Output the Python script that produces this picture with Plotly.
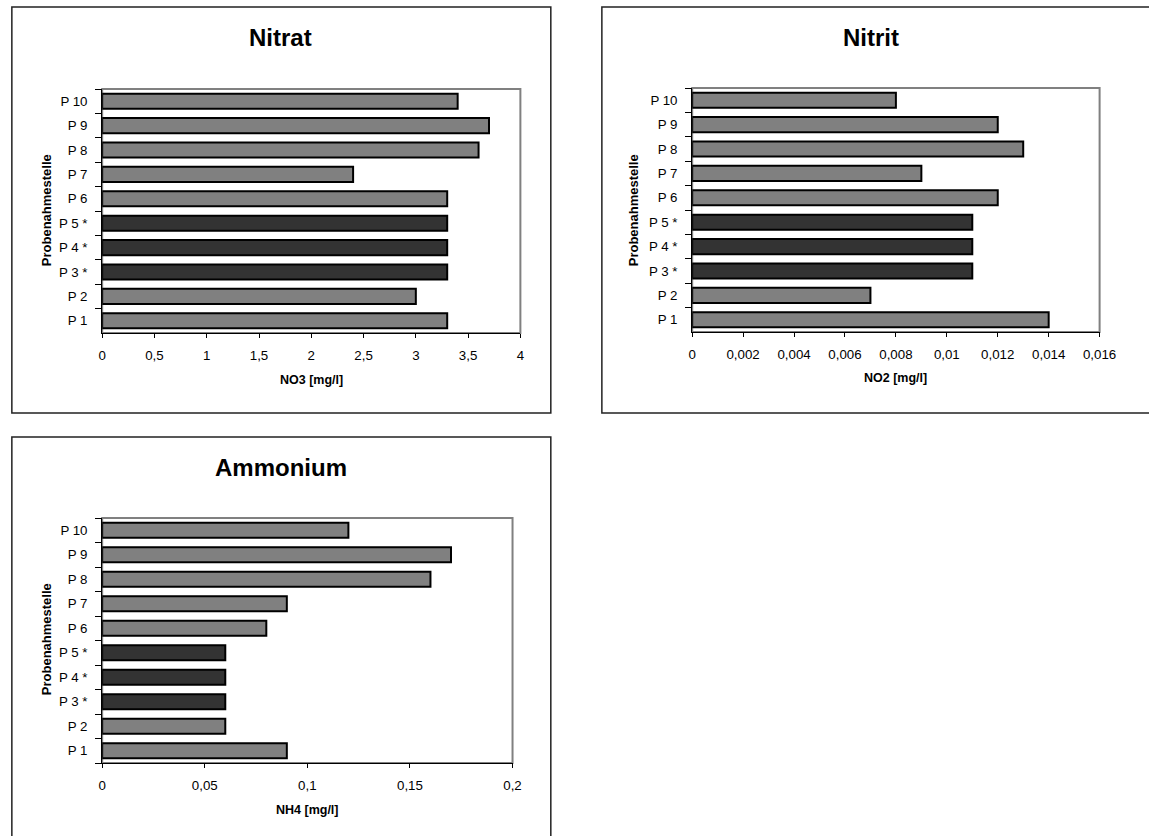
import plotly.graph_objects as go

# ---------------- data ----------------
categories = ["P 1", "P 2", "P 3 *", "P 4 *", "P 5 *", "P 6", "P 7", "P 8", "P 9", "P 10"]
nitrat = [3.3, 3.0, 3.3, 3.3, 3.3, 3.3, 2.4, 3.6, 3.7, 3.4]
nitrit = [0.014, 0.007, 0.011, 0.011, 0.011, 0.012, 0.009, 0.013, 0.012, 0.008]
ammonium = [0.09, 0.06, 0.06, 0.06, 0.06, 0.08, 0.09, 0.16, 0.17, 0.12]

no3_ticks = [0, 0.5, 1, 1.5, 2, 2.5, 3, 3.5, 4]
no3_labels = ["0", "0,5", "1", "1,5", "2", "2,5", "3", "3,5", "4"]
no2_ticks = [0, 0.002, 0.004, 0.006, 0.008, 0.01, 0.012, 0.014, 0.016]
no2_labels = ["0", "0,002", "0,004", "0,006", "0,008", "0,01", "0,012", "0,014", "0,016"]
nh4_ticks = [0, 0.05, 0.1, 0.15, 0.2]
nh4_labels = ["0", "0,05", "0,1", "0,15", "0,2"]

titles = ["Nitrat", "Nitrit", "Ammonium"]
xtitles = ["NO3 [mg/l]", "NO2 [mg/l]", "NH4 [mg/l]"]
ytitle = "Probenahmestelle"
highlight = ["P 3 *", "P 4 *", "P 5 *"]

# ---------------- layout helpers ----------------
W, H = 1149, 836
FONT = "Liberation Sans, Arial, sans-serif"


def px(x):
    return x / W


def py(y):
    return 1 - y / H


colors = ["#333333" if c in highlight else "#808080" for c in categories]

panels = [
    dict(vals=nitrat, ticks=no3_ticks, labels=no3_labels, xmax=4,
         plot=(100, 526, 89, 333), box=(8, 7, 557, 413), ty=37, xty=380, ytx=43, yty=210, tx=282),
    dict(vals=nitrit, ticks=no2_ticks, labels=no2_labels, xmax=0.016,
         plot=(701, 1116, 88, 332), box=(609, 7, 1170, 413), ty=37, xty=378, ytx=641, yty=210, tx=883),
    dict(vals=ammonium, ticks=nh4_ticks, labels=nh4_labels, xmax=0.2,
         plot=(100, 518, 518, 763), box=(8, 437, 557, 850), ty=467, xty=810, ytx=43, yty=639, tx=282),
]

fig = go.Figure()
shapes = []
annotations = []

for i, p in enumerate(panels):
    suffix = "" if i == 0 else str(i + 1)
    xa = "x" + suffix
    ya = "y" + suffix
    fig.add_trace(go.Bar(
        x=p["vals"], y=categories, orientation="h",
        marker=dict(color=colors, line=dict(color="black", width=2)),
        xaxis=xa, yaxis=ya, showlegend=False, hoverinfo="x+y",
    ))
    l, r, t, b = p["plot"]
    fig.update_layout(**{
        "xaxis" + suffix: dict(
            domain=[px(l), px(r)], anchor=ya, range=[0, p["xmax"]],
            tickvals=p["ticks"], ticktext=p["labels"],
            showgrid=False, zeroline=False, showline=True, linecolor="black", linewidth=1,
            ticks="outside", ticklen=4, tickcolor="black", ticklabelstandoff=6,
            tickfont=dict(family=FONT, size=13.3, color="black"), fixedrange=True,
        ),
        "yaxis" + suffix: dict(
            domain=[py(b), py(t)], anchor=xa, type="category",
            categoryorder="array", categoryarray=categories,
            showgrid=False, showline=True, linecolor="black", linewidth=1,
            ticks="outside", ticklen=6, tickcolor="black", tickson="boundaries",
            ticklabelstandoff=11,
            tickfont=dict(family=FONT, size=13.3, color="black"), fixedrange=True,
        ),
    })
    shapes.append(dict(type="rect", xref="paper", yref="paper",
                       x0=px(l), x1=px(r), y0=py(b), y1=py(t),
                       line=dict(color="#808080", width=2), layer="below"))
    bl, bt, br, bb = p["box"]
    shapes.append(dict(type="rect", xref="paper", yref="paper",
                       x0=px(bl), x1=px(br), y0=py(bb), y1=py(bt),
                       line=dict(color="#222222", width=1.5), layer="below"))
    annotations.append(dict(text="<b>%s</b>" % titles[i], xref="paper", yref="paper",
                            x=px(p["tx"]), y=py(p["ty"]), showarrow=False,
                            xanchor="center", yanchor="middle",
                            font=dict(family=FONT, size=24, color="black")))
    annotations.append(dict(text="<b>%s</b>" % xtitles[i], xref="paper", yref="paper",
                            x=px((l + r) / 2), y=py(p["xty"]), showarrow=False,
                            xanchor="center", yanchor="middle",
                            font=dict(family=FONT, size=12.5, color="black")))
    annotations.append(dict(text="<b>%s</b>" % ytitle, xref="paper", yref="paper",
                            x=px(p["ytx"]), y=py(p["yty"]), showarrow=False, textangle=-90,
                            xanchor="center", yanchor="middle",
                            font=dict(family=FONT, size=13, color="black")))

fig.update_layout(
    width=W, height=H, autosize=False,
    margin=dict(l=0, r=0, t=0, b=0),
    paper_bgcolor="white", plot_bgcolor="white",
    bargap=0.38,
    shapes=shapes, annotations=annotations,
    font=dict(family=FONT, color="black"),
)

fig.write_html("out.html", config={"displayModeBar": False},
               post_script="document.body.style.margin='0';document.body.style.overflow='hidden';")
